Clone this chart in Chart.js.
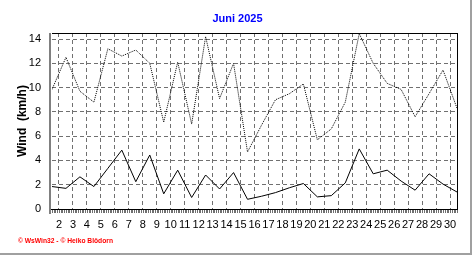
<!DOCTYPE html>
<html>
<head>
<meta charset="utf-8">
<script src="https://cdn.jsdelivr.net/npm/chart.js@4/dist/chart.umd.min.js"></script>
<style>
  html, body { margin: 0; padding: 0; background: #fff; }
  canvas { display: block; }
</style>
</head>
<body>
<canvas id="c" width="472" height="255"></canvas>
<script>
// ---- data ----
const days = [1,2,3,4,5,6,7,8,9,10,11,12,13,14,15,16,17,18,19,20,21,22,23,24,25,26,27,28,29,30];
const windAvg = [1.85,1.7,2.65,1.85,3.35,4.85,2.25,4.45,1.25,3.2,0.95,2.8,1.65,3.0,0.8,1.05,1.35,1.75,2.1,1.0,1.1,2.15,4.95,2.9,3.2,2.3,1.55,2.9,2.05,1.4];
const windGust = [9.85,12.5,9.7,8.8,13.2,12.6,13.1,12.0,7.15,12.1,7.0,14.2,9.1,12.0,4.7,6.9,9.0,9.5,10.3,5.7,6.6,8.8,14.45,12.0,10.35,9.85,7.6,9.5,11.45,8.3];
const xTickLabels = [2,3,4,5,6,7,8,9,10,11,12,13,14,15,16,17,18,19,20,21,22,23,24,25,26,27,28,29,30];
const yTickLabels = [0,2,4,6,8,10,12,14];
const titleText = 'Juni 2025';
const yTitleText = 'Wind  (km/h)';
const footerText = '\u00A9 WsWin32 - \u00A9 Heiko Blödorn';

// values plotted at noon of each day
const toPoints = arr => arr.map((v, i) => ({ x: days[i] + 0.5, y: v }));

const decor = {
  id: 'decor',
  beforeDraw(chart) {
    const ctx = chart.ctx;
    ctx.save();
    ctx.fillStyle = '#ffffff';
    ctx.fillRect(0, 0, chart.width, chart.height);
    ctx.restore();
  },
  afterDraw(chart) {
    const ctx = chart.ctx;
    const a = chart.chartArea;
    const xs = chart.scales.x;
    ctx.save();
    // top and right frame
    ctx.fillStyle = '#000000';
    ctx.fillRect(a.left, a.top, a.right - a.left + 1, 1);
    ctx.fillRect(a.right, a.top, 1, a.bottom - a.top + 2);
    // bottom axis line with minor ticks
    ctx.fillRect(a.left - 2, a.bottom, a.right - a.left + 3, 1);
    ctx.fillStyle = '#707070';
    for (let t = xs.min; t <= xs.max + 1e-6; t += 1 / 8) {
      const px = Math.round(xs.getPixelForValue(t));
      ctx.fillRect(px, a.bottom + 1, 1, 3);
    }
    // left axis (grey, thick)
    ctx.fillStyle = '#808080';
    ctx.fillRect(a.left - 3, a.top, 2, a.bottom - a.top + 5);
    // title
    ctx.fillStyle = '#0000ff';
    ctx.font = 'bold 11px "Liberation Sans", Arial, sans-serif';
    ctx.textAlign = 'center';
    ctx.textBaseline = 'alphabetic';
    ctx.fillText(titleText, 237.5, 22);
    // footer credit
    ctx.fillStyle = '#ff0000';
    ctx.font = 'bold 7px "Liberation Sans", Arial, sans-serif';
    ctx.textAlign = 'left';
    ctx.fillText(footerText, 18, 243, 95);
    // outer grey frame (right / bottom)
    ctx.fillStyle = '#a0a0a0';
    ctx.fillRect(chart.width - 2, 0, 2, chart.height);
    ctx.fillRect(0, chart.height - 2, chart.width, 2);
    ctx.restore();
  }
};

new Chart(document.getElementById('c'), {
  type: 'line',
  data: {
    datasets: [
      {
        label: 'Böen',
        data: toPoints(windGust),
        borderColor: '#000000',
        borderWidth: 1,
        borderDash: [1, 1],
        pointRadius: 0,
        tension: 0,
        fill: false
      },
      {
        label: 'Mittel',
        data: toPoints(windAvg),
        borderColor: '#000000',
        borderWidth: 1,
        pointRadius: 0,
        tension: 0,
        fill: false
      }
    ]
  },
  options: {
    responsive: false,
    animation: false,
    devicePixelRatio: 1,
    layout: { padding: { left: 0, right: 15, top: 33, bottom: 0 } },
    plugins: {
      legend: { display: false },
      title: { display: false },
      tooltip: { enabled: false }
    },
    scales: {
      x: {
        type: 'linear',
        min: 1.5,
        max: 30.5,
        afterBuildTicks: s => { s.ticks = xTickLabels.map(v => ({ value: v })); },
        afterFit: s => { s.height = 46; },
        grid: {
          color: '#707070',
          lineWidth: 1,
          drawTicks: false
        },
        border: { display: false, dash: [4, 3] },
        ticks: {
          padding: 9,
          maxRotation: 0,
          autoSkip: false,
          color: '#000000',
          font: { family: '"Liberation Sans", Arial, sans-serif', size: 11 }
        }
      },
      y: {
        min: 0,
        max: 14.5,
        afterBuildTicks: s => { s.ticks = yTickLabels.map(v => ({ value: v })); },
        afterFit: s => { s.width = 52; },
        grid: {
          color: '#707070',
          lineWidth: 1,
          drawTicks: false
        },
        border: { display: false, dash: [4, 3] },
        ticks: {
          padding: 11,
          color: '#000000',
          font: { family: '"Liberation Sans", Arial, sans-serif', size: 11 }
        },
        title: {
          display: true,
          text: yTitleText,
          color: '#000000',
          padding: { top: 15, bottom: 0 },
          font: { family: '"Liberation Sans", Arial, sans-serif', size: 12, weight: 'bold' }
        }
      }
    }
  },
  plugins: [decor]
});
</script>
</body>
</html>
